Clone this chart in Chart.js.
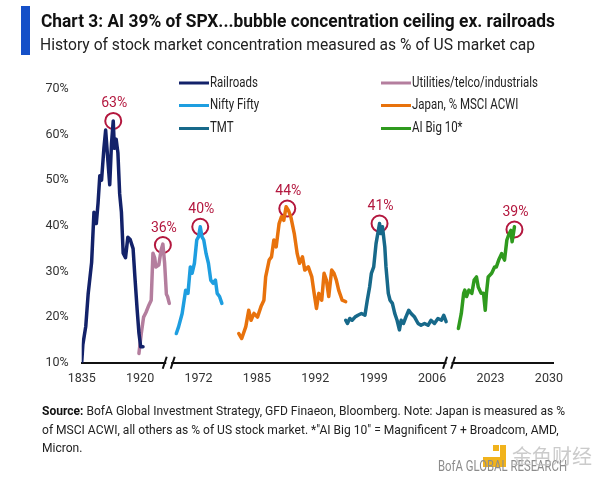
<!DOCTYPE html>
<html lang="en">
<head>
    <meta charset="UTF-8">
    <title>Chart 3: AI 39% of SPX</title>
    <script src="https://cdn.jsdelivr.net/npm/chart.js"></script>
    <style>
        body {
            margin: 0;
            background: #fff;
            font-family: Roboto, "Noto Sans", sans-serif;
            color: #222;
        }
        .page {
            position: relative;
            width: 600px;
            height: 477px;
            overflow: hidden;
        }
        .bar {
            position: absolute;
            left: 21px;
            top: 6px;
            width: 9px;
            height: 49px;
            background: #1550c8;
        }
        .fit {
            position: absolute;
            white-space: nowrap;
            transform-origin: 0 0;
        }
        .title {
            left: 41px;
            top: 9px;
            font-size: 19px;
            font-weight: bold;
            line-height: 24px;
            color: #111;
        }
        .subtitle {
            left: 40px;
            top: 33px;
            font-size: 17px;
            line-height: 22px;
            color: #222;
        }
        .chart-box {
            position: absolute;
            left: 0;
            top: 0;
            width: 600px;
            height: 477px;
        }
        .source {
            left: 42px;
            top: 401px;
            font-size: 13.5px;
            line-height: 18.5px;
            color: #222;
        }
        .source b { color: #111; }
        .bofa {
            left: 438px;
            top: 457px;
            font-size: 14px;
            line-height: 18px;
            color: #8c8c8c;
        }
        .wm {
            position: absolute;
            left: 512px;
            top: 444px;
            font-family: "Noto Sans CJK SC", sans-serif;
            font-size: 20px;
            line-height: 24px;
            color: rgba(190, 190, 190, 0.8);
        }
        .logo { position: absolute; background: #f1b31c; }
    </style>
</head>
<body>
<div class="page">
    <div class="chart-box"><canvas id="concChart"></canvas></div>
    <div class="bar"></div>
    <div class="fit title" data-w="514">Chart 3: AI 39% of SPX...bubble concentration ceiling ex. railroads</div>
    <div class="fit subtitle" data-w="495">History of stock market concentration measured as % of US market cap</div>
    <div class="fit source" data-w="523"><span class="first"><b>Source:</b> BofA Global Investment Strategy, GFD Finaeon, Bloomberg. Note: Japan is measured as %</span><br>
        of MSCI ACWI, all others as % of US stock market. *"AI Big 10" = Magnificent 7 + Broadcom, AMD,<br>
        Micron.</div>
    <div class="logo" style="left:493px;top:445px;width:6px;height:6px"></div>
    <div class="logo" style="left:500px;top:445px;width:6px;height:22px"></div>
    <div class="logo" style="left:483px;top:457px;width:23px;height:10px"></div>
    <div class="fit bofa" data-w="129">BofA GLOBAL RESEARCH</div>
    <div class="wm">金色财经</div>
</div>

<script>
    // x positions are slots on the broken axis: 0 = 1835 ... 8 = 2030
    const xLabels = ['1835', '1920', '1972', '1985', '1992', '1999', '2006', '2023', '2030'];
    const breakAt = [1.49, 6.29];

    const railroads = [[0.00, 10], [0.02, 14], [0.07, 18], [0.11, 25], [0.17, 32], [0.21, 43], [0.25, 40.5],
        [0.28, 45], [0.31, 51], [0.34, 50], [0.38, 57], [0.41, 61], [0.45, 54], [0.48, 49], [0.51, 58],
        [0.54, 63], [0.56, 57], [0.59, 59], [0.62, 56], [0.65, 47], [0.68, 43], [0.71, 34], [0.75, 33],
        [0.79, 37.5], [0.83, 37], [0.88, 35], [0.91, 29], [0.95, 21.5], [0.98, 16.5], [1.01, 13.5], [1.05, 13.5]];
    const utilities = [[0.98, 12], [1.02, 16.4], [1.06, 20], [1.10, 21], [1.15, 22.6], [1.19, 23.7], [1.22, 34],
        [1.25, 33], [1.27, 31], [1.32, 31.4], [1.36, 34.7], [1.39, 36], [1.42, 31.8], [1.45, 25], [1.47, 24.5], [1.50, 23]];
    const niftyFifty = [[1.62, 16.4], [1.66, 17.9], [1.72, 20.8], [1.78, 25.9], [1.82, 25.2], [1.86, 31], [1.89, 29.6],
        [1.93, 31.8], [1.97, 36.9], [2.00, 37.6], [2.03, 39.8], [2.06, 37.6], [2.09, 36.9], [2.13, 33.9], [2.17, 31.8],
        [2.21, 28.1], [2.25, 27.4], [2.29, 28.1], [2.32, 25.2], [2.36, 24.5], [2.40, 23]];
    const japan = [[2.69, 16.4], [2.74, 15.3], [2.81, 17.9], [2.86, 21.5], [2.90, 19.3], [2.95, 20.8], [3.01, 20],
        [3.07, 22.3], [3.12, 23.7], [3.15, 28.8], [3.21, 32.5], [3.25, 33.2], [3.29, 36.9], [3.33, 35.4], [3.38, 40.5],
        [3.42, 42], [3.46, 41.2], [3.50, 44.2], [3.54, 43.4], [3.58, 42], [3.64, 38.3], [3.69, 33.9], [3.73, 31.8],
        [3.78, 33.2], [3.82, 30.3], [3.88, 31], [3.94, 28.8], [3.98, 25.2], [4.02, 21.9], [4.06, 25.2], [4.11, 23.7],
        [4.15, 29.6], [4.19, 28.1], [4.23, 24.5], [4.28, 30.3], [4.32, 29.6], [4.36, 28.1], [4.40, 25.9], [4.46, 23.7], [4.52, 23.4]];
    const tmt = [[4.52, 19.3], [4.55, 18.6], [4.59, 19.7], [4.63, 19.3], [4.68, 20], [4.73, 20.4], [4.79, 20.8],
        [4.85, 20.4], [4.89, 23.7], [4.93, 26.6], [4.96, 29.6], [5.00, 31], [5.04, 36.1], [5.07, 38.3], [5.10, 40.5],
        [5.12, 38.3], [5.15, 39.8], [5.19, 35.4], [5.21, 31], [5.25, 25.2], [5.28, 23.7], [5.32, 23], [5.36, 20.8],
        [5.40, 19.3], [5.44, 17.2], [5.47, 19.3], [5.51, 18.6], [5.55, 20], [5.60, 21.5], [5.64, 20.8], [5.70, 20],
        [5.76, 18.6], [5.81, 18.2], [5.87, 18.6], [5.93, 18.2], [5.98, 19.3], [6.04, 18.6], [6.10, 19.7], [6.16, 19.3],
        [6.20, 20.4], [6.24, 19]];
    const aiBig10 = [[6.45, 17.5], [6.50, 20.8], [6.54, 25.2], [6.56, 25.9], [6.59, 24.5], [6.63, 25.9], [6.68, 25.2],
        [6.72, 28.1], [6.76, 28.8], [6.79, 26.6], [6.84, 25.2], [6.88, 25.2], [6.91, 21.5], [6.93, 25.2], [6.96, 28.8],
        [7.02, 29.6], [7.07, 31], [7.10, 31], [7.14, 32.5], [7.19, 33.9], [7.24, 32.5], [7.28, 36.9], [7.32, 38.3],
        [7.35, 39], [7.37, 36.5], [7.41, 39.8]];

    const peakX = [0.54, 1.39, 2.03, 3.52, 5.10, 7.41];
    const peakY = [63, 35.8, 39.8, 43.8, 40.5, 39.2];
    const peakLabels = ['63%', '36%', '40%', '44%', '41%', '39%'];

    const seriesNames = ['Railroads', 'Utilities/telco/industrials', 'Nifty Fifty', 'Japan, % MSCI ACWI', 'TMT', 'AI Big 10*'];
    const seriesColors = ['#13226a', '#b47e9e', '#1e9ee0', '#e8720c', '#17698a', '#2f9a1e'];
    const seriesData = [railroads, utilities, niftyFifty, japan, tmt, aiBig10];

    const FONT = 'Roboto, "Noto Sans", sans-serif';
    const RED = '#b3173e';

    // squeeze the html text blocks to the condensed widths of the original
    document.querySelectorAll('.fit').forEach(el => {
        const ref = el.querySelector('.first') || el;
        const w = ref.getBoundingClientRect().width;
        el.style.transform = 'scaleX(' + (el.dataset.w / w) + ')';
    });

    const datasets = seriesData.map((pts, i) => ({
        label: seriesNames[i],
        data: pts.map(p => ({ x: p[0], y: p[1] })),
        borderColor: seriesColors[i],
        borderWidth: 3.5,
        pointRadius: 0,
        tension: 0,
        borderJoinStyle: 'round',
        fill: false
    }));
    datasets.push({
        label: 'peaks',
        data: peakX.map((x, i) => ({ x: x, y: peakY[i] })),
        showLine: false,
        pointRadius: 8,
        pointBorderWidth: 2,
        pointBorderColor: RED,
        pointBackgroundColor: 'rgba(0,0,0,0)',
        borderColor: RED
    });

    // legend in two columns, drawn on the canvas
    const legendPlugin = {
        id: 'twoColLegend',
        afterDraw(chart) {
            const ctx = chart.ctx;
            const cols = [179, 381];
            const rows = [83, 105.5, 128.5];
            const order = [0, 2, 4, 1, 3, 5];
            ctx.save();
            ctx.font = '14px ' + FONT;
            ctx.textBaseline = 'middle';
            ctx.fillStyle = '#222';
            const sx = 126 / ctx.measureText(seriesNames[1]).width;
            order.forEach((s, k) => {
                const x = cols[Math.floor(k / 3)];
                const y = rows[k % 3];
                ctx.strokeStyle = seriesColors[s];
                ctx.lineWidth = 3;
                ctx.beginPath();
                ctx.moveTo(x, y);
                ctx.lineTo(x + 30, y);
                ctx.stroke();
                ctx.save();
                ctx.translate(x + 31, y);
                ctx.scale(sx, 1);
                ctx.fillText(seriesNames[s], 0, 0);
                ctx.restore();
            });
            ctx.restore();
        }
    };

    const peakLabelPlugin = {
        id: 'peakLabels',
        afterDatasetsDraw(chart) {
            const ctx = chart.ctx;
            const xs = chart.scales.x, ys = chart.scales.y;
            ctx.save();
            ctx.font = '14px ' + FONT;
            ctx.fillStyle = RED;
            ctx.textAlign = 'center';
            ctx.textBaseline = 'middle';
            peakX.forEach((x, i) => {
                ctx.fillText(peakLabels[i], xs.getPixelForValue(x) + 1, ys.getPixelForValue(peakY[i]) - 17);
            });
            ctx.restore();
        }
    };

    const axisBreakPlugin = {
        id: 'axisBreaks',
        afterDraw(chart) {
            const ctx = chart.ctx;
            const py = chart.chartArea.bottom;
            ctx.save();
            breakAt.forEach(b => {
                const px = chart.scales.x.getPixelForValue(b);
                ctx.fillStyle = '#fff';
                ctx.fillRect(px - 2.5, py - 3, 5, 6);
                ctx.strokeStyle = '#111';
                ctx.lineWidth = 2;
                ctx.beginPath();
                ctx.moveTo(px - 6, py + 6);
                ctx.lineTo(px - 2, py - 6);
                ctx.moveTo(px + 2, py + 6);
                ctx.lineTo(px + 6, py - 6);
                ctx.stroke();
            });
            ctx.restore();
        }
    };

    new Chart(document.getElementById('concChart'), {
        type: 'line',
        data: { datasets: datasets },
        options: {
            responsive: true,
            maintainAspectRatio: false,
            animation: false,
            layout: { padding: { top: 89, right: 47, bottom: 84.3, left: 0 } },
            plugins: {
                legend: { display: false },
                tooltip: { enabled: false }
            },
            elements: { line: { borderCapStyle: 'round' } },
            scales: {
                x: {
                    type: 'linear',
                    min: 0,
                    max: 8.07,
                    grid: { display: false, drawTicks: false },
                    border: { display: true, color: '#111', width: 2 },
                    afterBuildTicks: scale => { scale.ticks = xLabels.map((_, i) => ({ value: i })); },
                    afterFit: scale => { scale.height = 30; },
                    ticks: {
                        autoSkip: false,
                        maxRotation: 0,
                        padding: 9,
                        color: '#333',
                        font: { family: FONT, size: 12.5 },
                        callback: v => xLabels[v]
                    }
                },
                y: {
                    min: 10,
                    max: 70,
                    grid: { display: false, drawTicks: false },
                    border: { display: false },
                    afterFit: scale => { scale.width = 81.7; },
                    ticks: {
                        stepSize: 10,
                        padding: 13,
                        color: '#333',
                        font: { family: FONT, size: 12.5 },
                        callback: v => v + '%'
                    }
                }
            }
        },
        plugins: [legendPlugin, peakLabelPlugin, axisBreakPlugin]
    });
</script>
</body>
</html>
